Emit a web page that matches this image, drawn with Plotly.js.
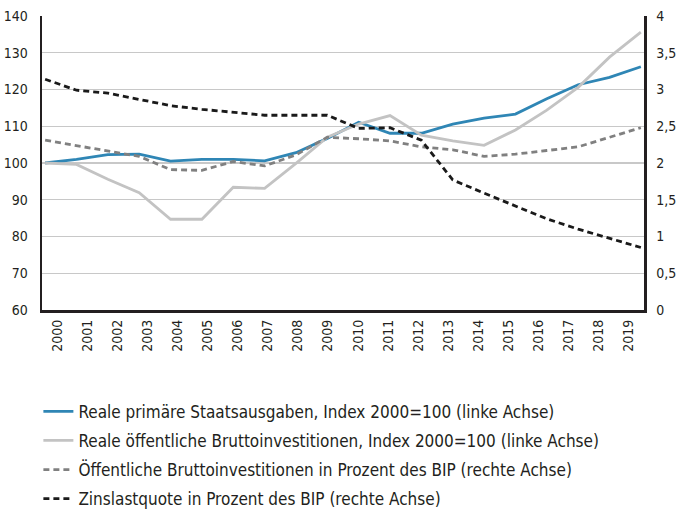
<!DOCTYPE html>
<html>
<head>
<meta charset="utf-8">
<script src="https://cdn.plot.ly/plotly-3.0.1.min.js"></script>
<style>html,body{margin:0;padding:0;background:#fff;}</style>
</head>
<body>
<div id="chart" style="width:676px;height:515px;"></div>
<script>
const years = ['2000','2001','2002','2003','2004','2005','2006','2007','2008','2009','2010','2011','2012','2013','2014','2015','2016','2017','2018','2019'];
const staatsausgaben = [100,101,102.3,102.4,100.5,101,101,100.6,102.8,106.7,111.1,108.1,108.1,110.6,112.2,113.3,117.5,121.3,123.3,126.2];
const investitionenIndex = [100,99.6,95.6,91.9,84.7,84.7,93.4,93.1,99.9,107,110.6,112.9,107.6,106,104.8,109,114.4,120.6,128.8,135.6];
const investitionenBIP = [2.31,2.24,2.17,2.09,1.91,1.90,2.02,1.96,2.11,2.35,2.33,2.30,2.22,2.18,2.09,2.12,2.17,2.22,2.35,2.48];
const zinslast = [3.14,2.99,2.95,2.87,2.78,2.73,2.69,2.65,2.65,2.65,2.47,2.48,2.31,1.77,1.59,1.41,1.24,1.10,0.98,0.85];
const leftTicks = [60,70,80,90,100,110,120,130,140];
const rightTickVals = [0,0.5,1,1.5,2,2.5,3,3.5,4];
const rightTickText = ['0','0,5','1','1,5','2','2,5','3','3,5','4'];
const names = [
  'Reale primäre Staatsausgaben, Index 2000=100 (linke Achse)',
  'Reale öffentliche Bruttoinvestitionen, Index 2000=100 (linke Achse)',
  'Öffentliche Bruttoinvestitionen in Prozent des BIP (rechte Achse)',
  'Zinslastquote in Prozent des BIP (rechte Achse)'
];

const FONT = '"Liberation Sans Narrow", "DejaVu Sans Condensed", "Arial Narrow", sans-serif';
const xNum = years.map(y => Number(y));
const catIdx = years.map((y, i) => i);

const traces = [
  {x: xNum, y: staatsausgaben, name: names[0], type: 'scatter', mode: 'lines', xaxis: 'x', yaxis: 'y',
   line: {color: '#2f86b5', width: 2.8}, legendgroup: 'a'},
  {x: xNum, y: investitionenIndex, name: names[1], type: 'scatter', mode: 'lines', xaxis: 'x', yaxis: 'y',
   line: {color: '#c3c3c3', width: 2.8}, legendgroup: 'b'},
  {x: xNum, y: investitionenBIP, name: names[2], type: 'scatter', mode: 'lines', xaxis: 'x', yaxis: 'y2',
   line: {color: '#808080', width: 2.8, dash: '6px,4px'}, legendgroup: 'c'},
  {x: xNum, y: zinslast, name: names[3], type: 'scatter', mode: 'lines', xaxis: 'x', yaxis: 'y2',
   line: {color: '#1a1a1a', width: 2.8, dash: '6px,4px'}, legendgroup: 'd'},
  // carrier for the category-centred year labels
  {x: catIdx, y: years.map(() => null), type: 'scatter', mode: 'lines', xaxis: 'x2', yaxis: 'y',
   showlegend: false, hoverinfo: 'skip', line: {width: 0}}
];

const layout = {
  width: 676, height: 515,
  margin: {l: 42, r: 32, t: 16, b: 205, autoexpand: false},
  paper_bgcolor: '#fff', plot_bgcolor: '#fff',
  font: {family: FONT, size: 14, color: '#231f20'},
  showlegend: true,
  xaxis: {
    type: 'linear', range: [1999.9, 2019.1], showticklabels: false, showgrid: false,
    zeroline: false, showline: true, linecolor: '#231f20', linewidth: 2.5, ticks: ''
  },
  xaxis2: {
    type: 'linear', overlaying: 'x', anchor: 'y', side: 'bottom',
    range: [-0.5, 19.5], tickmode: 'array', tickvals: catIdx, ticktext: years,
    tickangle: -90, showgrid: false, zeroline: false, showline: false, ticks: '',
    ticklabelstandoff: 6,
    tickfont: {family: FONT, size: 14, color: '#231f20'}
  },
  yaxis: {
    range: [60, 140], tickmode: 'array', tickvals: leftTicks, showgrid: true, gridcolor: '#c8c8c8', gridwidth: 1.2,
    zeroline: false, showline: true, linecolor: '#231f20', linewidth: 2.5, ticks: '', ticklabelstandoff: 9,
    tickfont: {family: FONT, size: 14, color: '#231f20'}
  },
  yaxis2: {
    range: [0, 4], overlaying: 'y', side: 'right', anchor: 'x', tickmode: 'array',
    tickvals: rightTickVals, ticktext: rightTickText, showgrid: false, zeroline: false,
    showline: true, linecolor: '#231f20', linewidth: 2.5, ticks: '', ticklabelstandoff: 7,
    tickfont: {family: FONT, size: 14, color: '#231f20'}
  },
  legend: {
    x: -0.006, xanchor: 'left', y: -0.285, yanchor: 'top', orientation: 'v',
    font: {family: FONT, size: 17, color: '#231f20'}, traceorder: 'grouped', tracegroupgap: 4,
    itemwidth: 30, bgcolor: 'rgba(0,0,0,0)'
  }
};

Plotly.newPlot('chart', traces, layout, {staticPlot: true, displayModeBar: false});
</script>
</body>
</html>
